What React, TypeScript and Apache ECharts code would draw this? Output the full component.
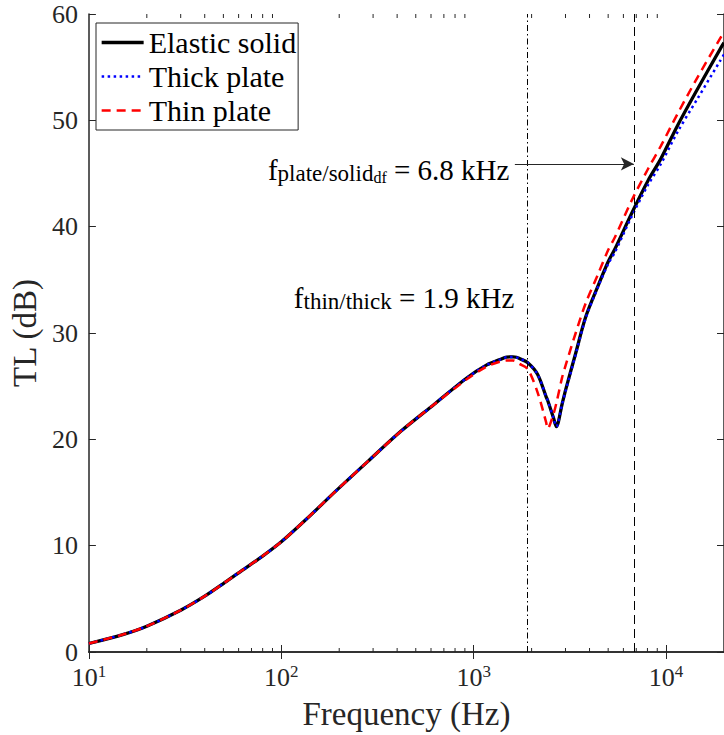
import React, { useEffect, useRef } from 'react';
import * as echarts from 'echarts';

const FONT = "'Liberation Serif', 'DejaVu Serif', serif";
const AX = '#262626';

// Frequency samples (Hz)
const freq = [10, 15, 20, 30, 40, 50, 60, 80, 100, 137, 190, 282, 418, 620, 920, 1170, 1370, 1480, 1600, 1670, 1730, 1910, 2150, 2380, 2420, 2600, 2690, 2880, 3010, 3390, 3820, 4445, 5000, 5420, 6600, 8040, 9400, 11460, 14520, 19100, 20000];
// Transmission loss (dB)
const elasticSolid = [0.8, 1.64, 2.43, 3.93, 5.25, 6.44, 7.45, 9.02, 10.36, 12.6, 15.06, 17.93, 20.75, 23.26, 25.77, 27.0, 27.5, 27.74, 27.75, 27.72, 27.6, 27.2, 26.1, 24.0, 23.7, 22.0, 21.2, 23.3, 24.7, 28.1, 31.5, 34.5, 36.7, 37.9, 41.2, 44.3, 46.4, 49.5, 52.9, 56.7, 57.3];
const thickPlate = [0.8, 1.64, 2.43, 3.93, 5.25, 6.44, 7.45, 9.02, 10.36, 12.6, 15.06, 17.93, 20.75, 23.26, 25.77, 27.0, 27.5, 27.72, 27.74, 27.7, 27.6, 27.2, 26.1, 24.0, 23.7, 22.0, 21.2, 23.3, 24.6, 28.0, 31.4, 34.4, 36.5, 37.6, 40.9, 43.9, 45.9, 48.9, 52.0, 55.6, 56.2];
const thinPlate = [0.8, 1.64, 2.43, 3.93, 5.25, 6.44, 7.45, 9.02, 10.36, 12.6, 15.06, 17.93, 20.75, 23.26, 25.65, 26.85, 27.3, 27.42, 27.42, 27.3, 27.1, 26.6, 24.4, 21.6, 21.0, 22.4, 23.4, 25.8, 27.0, 30.0, 32.8, 35.6, 37.8, 39.0, 42.4, 45.4, 47.6, 50.6, 54.0, 57.7, 58.3];

const seriesNames = ['Elastic solid', 'Thick plate', 'Thin plate'];
const yTicks = [0, 10, 20, 30, 40, 50, 60];
const minorTicks = [20, 30, 40, 50, 60, 70, 80, 90, 200, 300, 400, 500, 600, 700, 800, 900, 2000, 3000, 4000, 5000, 6000, 7000, 8000, 9000];

// Annotations
const fThinThick = 1900;
const fPlateSolid = 6800;
const arrowStart = [1637, 45.9];
const label1Pos = [1542, 45.3];
const label2Pos = [1637, 33.3];

const pairs = (ys: number[]) => freq.map((f, i) => [f, ys[i]]);

const annoRich = {
  m: { fontFamily: FONT, fontSize: 29, lineHeight: 30, color: '#000' },
  s: { fontFamily: FONT, fontSize: 23, lineHeight: 14, verticalAlign: 'bottom', color: '#000' },
  ss: { fontFamily: FONT, fontSize: 16, lineHeight: 5, verticalAlign: 'bottom', color: '#000' },
};

function buildOption(): any {
  const xBase = {
    type: 'log',
    logBase: 10,
    min: 10,
    max: 20000,
    splitLine: { show: false },
    axisLine: { show: true, lineStyle: { color: AX, width: 1.5 } },
    axisTick: { show: true, inside: true, length: 7, lineStyle: { color: AX, width: 1 } },
  };
  const yBase = {
    type: 'value',
    min: yTicks[0],
    max: yTicks[yTicks.length - 1],
    interval: 10,
    splitLine: { show: false },
    axisLine: { show: true, lineStyle: { color: AX, width: 1.5 } },
    axisTick: { show: true, inside: true, length: 7, lineStyle: { color: AX, width: 1 } },
  };
  const lineBase = {
    type: 'line',
    symbol: 'none',
    smooth: 0.3,
  };
  return {
    animation: false,
    backgroundColor: '#fff',
    textStyle: { fontFamily: FONT },
    grid: { left: 85, top: 14, right: -3, bottom: 82.5, containLabel: false },
    legend: {
      data: seriesNames,
      orient: 'vertical',
      left: 96,
      top: 23,
      itemWidth: 42,
      itemHeight: 14,
      itemGap: 4,
      padding: [4.5, 2, 4.5, 4],
      borderColor: AX,
      borderWidth: 1,
      backgroundColor: '#fff',
      itemStyle: { opacity: 0 },
      lineStyle: { width: 'inherit' },
      textStyle: { fontFamily: FONT, fontSize: 30, color: '#000' },
      z: 10,
    },
    xAxis: [
      {
        ...xBase,
        position: 'bottom',
        name: 'Frequency (Hz)',
        nameLocation: 'middle',
        nameGap: 45,
        nameTextStyle: { fontFamily: FONT, fontSize: 33, color: AX },
        axisLabel: {
          show: true,
          margin: 11,
          showMaxLabel: false,
          formatter: (v: number) => {
            const e = Math.round(Math.log10(v));
            if (Math.abs(Math.pow(10, e) - v) > 1e-6 * v) return '';
            return `{b|10}{p|${e}}`;
          },
          rich: {
            b: { fontFamily: FONT, fontSize: 26, lineHeight: 28, color: AX },
            p: { fontFamily: FONT, fontSize: 17, lineHeight: 21, verticalAlign: 'top', color: AX },
          },
        },
      },
      {
        ...xBase,
        position: 'top',
        axisLabel: { show: false },
      },
    ],
    yAxis: [
      {
        ...yBase,
        position: 'left',
        name: 'TL (dB)',
        nameLocation: 'middle',
        nameGap: 42,
        nameRotate: 90,
        nameTextStyle: { fontFamily: FONT, fontSize: 33, color: AX },
        axisLabel: { show: true, margin: 11, fontFamily: FONT, fontSize: 26, color: AX },
      },
      {
        ...yBase,
        position: 'right',
        axisLabel: { show: false },
      },
    ],
    series: [
      {
        ...lineBase,
        name: seriesNames[0],
        data: pairs(elasticSolid),
        lineStyle: { color: '#000', width: 3.3 },
        itemStyle: { color: '#000' },
        z: 3,
        markLine: {
          silent: true,
          symbol: 'none',
          label: { show: false },
          data: [
            { xAxis: fThinThick, lineStyle: { color: '#000', width: 1, type: [6, 3, 1.5, 3] } },
            { xAxis: fPlateSolid, lineStyle: { color: '#000', width: 1, type: [9, 5] } },
          ],
        },
        markPoint: {
          silent: true,
          symbol: 'circle',
          symbolSize: 1,
          itemStyle: { color: 'rgba(0,0,0,0)' },
          data: [
            {
              coord: label1Pos,
              label: {
                show: true,
                position: 'left',
                distance: 0,
                formatter: '{m|f}{s|plate/solid}{ss|df}{m| = 6.8 kHz}',
                rich: annoRich,
              },
            },
            {
              coord: label2Pos,
              label: {
                show: true,
                position: 'left',
                distance: 0,
                formatter: '{m|f}{s|thin/thick}{m| = 1.9 kHz}',
                rich: annoRich,
              },
            },
          ],
        },
      },
      {
        ...lineBase,
        name: seriesNames[1],
        data: pairs(thickPlate),
        lineStyle: { color: '#0000ff', width: 2.5, type: [2.5, 3.5] },
        itemStyle: { color: '#0000ff' },
        z: 4,
        markLine: {
          silent: true,
          symbol: ['none', 'arrow'],
          symbolSize: [10, 13],
          label: { show: false },
          lineStyle: { color: AX, width: 1, type: 'solid' },
          itemStyle: { color: '#000' },
          data: [[{ coord: arrowStart }, { coord: [fPlateSolid, arrowStart[1]] }]],
        },
      },
      {
        ...lineBase,
        name: seriesNames[2],
        data: pairs(thinPlate),
        lineStyle: { color: '#ff0000', width: 2.5, type: [9, 6] },
        itemStyle: { color: '#ff0000' },
        z: 5,
      },
      {
        name: 'minorTicks',
        type: 'custom',
        silent: true,
        xAxisIndex: 0,
        yAxisIndex: 0,
        data: minorTicks.map((f) => [f, 0]),
        encode: { x: 0, y: 1 },
        z: 6,
        renderItem: (_params: any, api: any) => {
          const f = api.value(0);
          const b = api.coord([f, yTicks[0]]);
          const t = api.coord([f, yTicks[yTicks.length - 1]]);
          return {
            type: 'group',
            children: [
              { type: 'line', shape: { x1: b[0], y1: b[1], x2: b[0], y2: b[1] - 4 }, style: { stroke: AX, lineWidth: 1 } },
              { type: 'line', shape: { x1: t[0], y1: t[1], x2: t[0], y2: t[1] + 4 }, style: { stroke: AX, lineWidth: 1 } },
            ],
          };
        },
      },
    ],
  };
}

export default function App() {
  const ref = useRef<HTMLDivElement>(null);
  useEffect(() => {
    const chart = echarts.init(ref.current!, null, { renderer: 'svg' });
    chart.setOption(buildOption());
    return () => chart.dispose();
  }, []);
  return (
    <div
      ref={ref}
      style={{ position: 'fixed', left: 0, top: 0, width: 724, height: 735, background: '#fff', overflow: 'hidden' }}
    />
  );
}
